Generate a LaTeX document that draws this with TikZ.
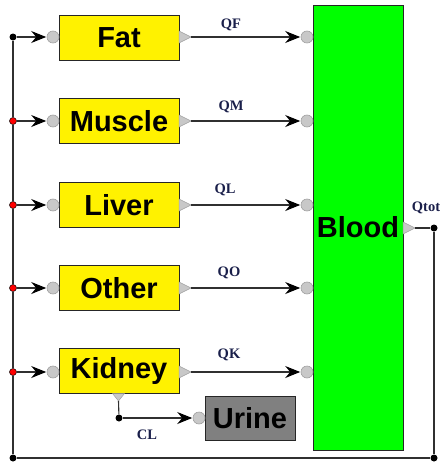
\documentclass[tikz,border=0pt]{standalone}
\usepackage{fontspec}
\setmainfont{Liberation Serif}
\newfontfamily\boxfont{Liberation Sans}
\usetikzlibrary{arrows.meta}
\definecolor{wirec}{HTML}{303030}
\definecolor{portfill}{HTML}{C8C8C8}
\definecolor{portdraw}{HTML}{A0A0A0}
\definecolor{labc}{HTML}{1A1F4A}
\begin{document}
\begin{tikzpicture}[x=1pt,y=-1pt,
  comp/.style={draw=black!85,line width=1pt,fill=yellow,minimum width=120pt,minimum height=45pt,inner sep=0pt,font=\boxfont\bfseries\fontsize{29}{29}\selectfont},
  inport/.style={circle,draw=portdraw,fill=portfill,minimum size=12pt,inner sep=0pt,line width=0.6pt},
  jdot/.style={circle,fill=black,minimum size=7pt,inner sep=0pt},
  rdot/.style={circle,fill=red,draw=black,line width=0.5pt,minimum size=7pt,inner sep=0pt},
  wire/.style={draw=wirec,line width=1.1pt},
  flow/.style={wire,-{Stealth[length=15pt,width=12pt,inset=5pt,color=black]},shorten >=0.5pt},
  outtri/.style={fill=portfill,draw=portdraw,line width=0.5pt},
  lab/.style={font=\bfseries\fontsize{14.5}{14.5}\selectfont,text=labc,inner sep=0pt}
]
\useasboundingbox (0,0) rectangle (443,463);
% compartments
\node[comp] (fat) at (119,37.5) {Fat};
\node[comp] (muscle) at (119,121) {Muscle};
\node[comp] (liver) at (119,205) {Liver};
\node[comp] (other) at (119,288) {Other};
\node[comp] (kidney) at (119,371) {Kidney};
\node[comp,fill=black!50,minimum width=90pt,minimum height=44pt] (urine) at (250,418) {Urine};
\node[comp,fill=green,minimum width=90pt,minimum height=445pt] (blood) at (358,227.5) {Blood};
% input ports
\node[inport] (fatin) at (53,37) {};
\node[inport] (muscin) at (53,121) {};
\node[inport] (livin) at (53,205) {};
\node[inport] (othin) at (53,288) {};
\node[inport] (kidin) at (53,372) {};
\node[inport] (urin) at (199,418) {};
\node[inport] (b1) at (307,37) {};
\node[inport] (b2) at (307,121) {};
\node[inport] (b3) at (307,205) {};
\node[inport] (b4) at (307,288) {};
\node[inport] (b5) at (307,372) {};
% output ports
\foreach \n/\y in {fat/37,muscle/121,liver/205,other/288,kidney/372}{
  \draw[outtri] (179,\y-6) -- (191,\y) -- (179,\y+6) -- cycle;
  \coordinate (\n-out) at (191,\y);
}
\draw[outtri] (403,222) -- (415,228) -- (403,234) -- cycle;
\coordinate (bloodout) at (415,228);
\draw[outtri] (112.5,393.5) -- (118.5,401) -- (124.5,393.5) -- cycle;
\coordinate (kidneybot) at (118.5,401);
% junctions
\node[jdot] (j1) at (13,37) {};
\node[rdot] (j2) at (13,121) {};
\node[rdot] (j3) at (13,205) {};
\node[rdot] (j4) at (13,288) {};
\node[rdot] (j5) at (13,372) {};
\node[jdot] (bl) at (13,458) {};
\node[jdot] (br) at (434,458) {};
\node[jdot] (qt) at (434,228) {};
\node[jdot] (cl) at (119,418) {};
% return loop
\draw[wire] (bloodout) -- (qt);
\draw[wire] (qt) -- (br);
\draw[wire] (br) -- (bl);
\draw[wire] (bl) -- (j5);
\draw[wire] (j5) -- (j4);
\draw[wire] (j4) -- (j3);
\draw[wire] (j3) -- (j2);
\draw[wire] (j2) -- (j1);
% inflows
\draw[flow] (j1) -- (fatin);
\draw[flow] (j2) -- (muscin);
\draw[flow] (j3) -- (livin);
\draw[flow] (j4) -- (othin);
\draw[flow] (j5) -- (kidin);
% outflows to blood
\draw[flow] (fat-out) -- (b1);
\draw[flow] (muscle-out) -- (b2);
\draw[flow] (liver-out) -- (b3);
\draw[flow] (other-out) -- (b4);
\draw[flow] (kidney-out) -- (b5);
% clearance
\draw[wire] (kidneybot) -- (cl);
\draw[flow] (cl) -- (urin);
% labels
\node[lab] (lqf) at (231,25) {QF};
\node[lab] (lqm) at (231,107) {QM};
\node[lab] (lql) at (225,190) {QL};
\node[lab] (lqo) at (229,273) {QO};
\node[lab] (lqk) at (229,355) {QK};
\node[lab] (lcl) at (147,435) {CL};
\node[lab] (lqt) at (426,208) {Qtot};
\end{tikzpicture}
\end{document}
